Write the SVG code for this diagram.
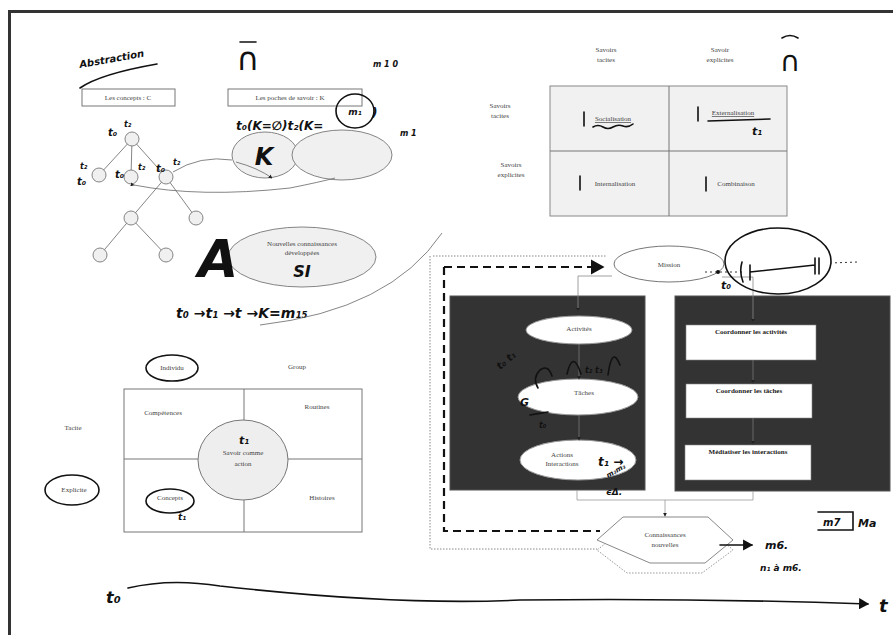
<svg xmlns="http://www.w3.org/2000/svg" width="893" height="635" viewBox="0 0 893 635">
<defs>
<marker id="ah" viewBox="0 0 6 6" refX="5" refY="3" markerWidth="5" markerHeight="5" orient="auto"><path d="M0,0 L6,3 L0,6 z" fill="#222"/></marker>
<marker id="hah" viewBox="0 0 10 10" refX="8" refY="5" markerWidth="7" markerHeight="7" orient="auto"><path d="M0,0 L9,5 L0,10 z" fill="#111"/></marker>
<style>
.doc{font-family:"Liberation Serif",serif;font-size:7px;fill:#444;text-anchor:middle}
.docb{font-family:"Liberation Serif",serif;font-size:7px;fill:#222;font-weight:bold;text-anchor:middle}
.hw{font-family:"DejaVu Sans",sans-serif;font-style:italic;font-weight:bold;fill:#111}
.hl{fill:none;stroke:#111;stroke-width:1.6;stroke-linecap:round}
.thin{fill:none;stroke:#666;stroke-width:0.8}
.node{fill:#f0f0f0;stroke:#777;stroke-width:0.9}
.dark{fill:#333;stroke:#555}
.wbox{fill:#fff;stroke:#888;stroke-width:0.6}
</style>
</defs>
<rect width="893" height="635" fill="#fff"/>
<rect x="8" y="10" width="885" height="3" fill="#333"/>
<rect x="8" y="10" width="3" height="625" fill="#333"/>

<g id="abstraction">
<text class="hw" x="80" y="68" font-size="10" transform="rotate(-10 80 68)">Abstraction</text>
<path class="hl" d="M80,88 Q100,74 157,64" stroke-width="1"/>
</g>
<g id="pi-bar">
<text x="248" y="70" font-size="32" text-anchor="middle" font-family="DejaVu Sans, sans-serif" fill="#111">∩</text>
<path class="hl" d="M240,42 L256,42"/>
<text class="hw" x="373" y="67" font-size="8">m 1 0</text>
</g>
<g id="box-concepts"><rect x="82" y="89" width="93" height="17" fill="#fff" stroke="#777"/><text class="doc" x="128" y="100">Les concepts : C</text></g>
<g id="box-poches"><rect x="228" y="89" width="134" height="17" fill="#fff" stroke="#777"/><text class="doc" x="290" y="100">Les poches de savoir : K</text></g>
<g id="hw-k-label">
<text class="hw" x="236" y="130" font-size="12">t₀(K=∅)t₂(K=</text>
<ellipse class="hl" cx="355" cy="111" rx="19" ry="17"/>
<text class="hw" x="355" y="115" font-size="9" text-anchor="middle">m₁</text>
<text class="hw" x="372" y="117" font-size="12">)</text>
<text class="hw" x="400" y="136" font-size="8">m 1</text>
</g>
<g id="ellipse-k"><ellipse class="node" cx="265" cy="155" rx="33" ry="23"/><text class="hw" x="264" y="165" font-size="24" text-anchor="middle" font-style="normal" font-weight="normal">K</text></g>
<g id="ellipse-k2"><ellipse class="node" cx="342" cy="155" rx="50" ry="25"/></g>

<g id="tree">
<g stroke="#777" stroke-width="0.9">
<line x1="132" y1="139" x2="99" y2="175"/><line x1="132" y1="139" x2="131" y2="177"/><line x1="132" y1="139" x2="166" y2="177"/>
<line x1="166" y1="177" x2="131" y2="218"/><line x1="166" y1="177" x2="196" y2="218"/>
<line x1="131" y1="218" x2="100" y2="255"/><line x1="131" y1="218" x2="166" y2="255"/>
</g>
<circle class="node" cx="132" cy="139" r="7"/><circle class="node" cx="99" cy="175" r="7"/><circle class="node" cx="131" cy="177" r="7"/><circle class="node" cx="166" cy="177" r="7"/>
<circle class="node" cx="131" cy="218" r="7"/><circle class="node" cx="196" cy="218" r="7"/><circle class="node" cx="100" cy="255" r="7"/><circle class="node" cx="166" cy="255" r="7"/>
<g class="hw" font-size="10">
<text x="108" y="136">t₀</text><text x="124" y="127" font-size="8">t₂</text>
<text x="80" y="169" font-size="8">t₂</text><text x="77" y="185">t₀</text>
<text x="115" y="178">t₀</text><text x="138" y="170" font-size="8">t₂</text>
<text x="156" y="172">t₀</text><text x="173" y="165" font-size="8">t₂</text>
</g>
</g>

<g id="ellipse-si"><ellipse class="node" cx="302" cy="257" rx="74" ry="30"/><text class="doc" x="302" y="246">Nouvelles connaissances</text><text class="doc" x="302" y="255">développées</text><text class="hw" x="302" y="277" font-size="16" text-anchor="middle" font-style="normal">SI</text></g>
<g id="hw-A"><text class="hw" x="218" y="277" font-size="52" text-anchor="middle" font-style="normal" font-weight="normal">A</text></g>
<g id="hw-sequence"><text class="hw" x="176" y="318" font-size="14">t₀ →t₁ →t →K=m₁₅</text></g>

<g id="seci">
<text class="doc" x="606" y="52">Savoirs</text><text class="doc" x="606" y="62">tacites</text>
<text class="doc" x="720" y="52">Savoir</text><text class="doc" x="720" y="62">explicites</text>
<text x="790" y="71" font-size="28" text-anchor="middle" font-family="DejaVu Sans, sans-serif" fill="#111">∩</text>
<path class="hl" d="M782,38 Q790,33 798,38"/>
<text class="doc" x="500" y="108" text-anchor="start">Savoirs</text><text class="doc" x="500" y="118" text-anchor="start">tacites</text>
<text class="doc" x="511" y="167" text-anchor="start">Savoirs</text><text class="doc" x="511" y="177" text-anchor="start">explicites</text>
<rect x="550" y="86" width="237" height="130" fill="#f1f1f1" stroke="#888"/>
<line x1="669" y1="86" x2="669" y2="216" stroke="#777"/><line x1="550" y1="151" x2="787" y2="151" stroke="#777"/>
<text class="doc" x="613" y="121" text-decoration="underline">Socialisation</text>
<path class="hl" d="M593,127 q5,-3 10,0 t10,0 t10,-1 t10,-2" stroke-width="1.3"/>
<text class="doc" x="733" y="115" text-decoration="underline">Externalisation</text>
<path class="hl" d="M708,121 L770,119" stroke-width="1.2"/>
<text class="hw" x="752" y="135" font-size="11">t₁</text>
<text class="doc" x="615" y="186">Internalisation</text>
<text class="doc" x="736" y="186">Combinaison</text>
<path class="hl" d="M584,112 L584,126 M698,107 L698,121 M580,176 L580,190 M706,177 L706,191" stroke-width="2.4"/>
</g>

<path class="thin" d="M442,233 Q390,310 260,325" stroke="#444"/>

<g id="frames">
<path d="M433,256 L607,256 M430,256 L430,549 L597,549" fill="none" stroke="#888" stroke-dasharray="1.5 1.5"/>
</g>
<g id="box-left"><rect class="dark" x="450" y="296" width="195" height="194"/></g>
<g id="box-right"><rect class="dark" x="675" y="296" width="215" height="195"/></g>
<g id="mission"><ellipse fill="#fff" stroke="#777" cx="669" cy="264" rx="55" ry="18"/><text class="doc" x="669" y="267">Mission</text></g>
<g id="activites"><ellipse fill="#fff" stroke="#999" cx="579" cy="330" rx="53" ry="14"/><text class="doc" x="579" y="331" fill="#555">Activités</text></g>
<g id="taches"><ellipse fill="#fff" stroke="#999" cx="578" cy="397" rx="60" ry="18"/><text class="doc" x="584" y="395" fill="#555">Tâches</text></g>
<g id="actions"><ellipse fill="#fff" stroke="#999" cx="578" cy="460" rx="58" ry="20"/><text class="doc" x="562" y="457" fill="#555">Actions</text><text class="doc" x="562" y="466" fill="#555">Interactions</text></g>
<g id="coord-activites"><rect class="wbox" x="686" y="325" width="130" height="35"/><text class="docb" x="751" y="334">Coordonner les activités</text></g>
<g id="coord-taches"><rect class="wbox" x="686" y="384" width="126" height="34"/><text class="docb" x="749" y="393">Coordonner les tâches</text></g>
<g id="mediatiser"><rect class="wbox" x="685" y="445" width="126" height="35"/><text class="docb" x="748" y="454">Médiatiser les interactions</text></g>
<g id="hexagon">
<path d="M627,527 L708,527 L733,550 L702,573 L627,573 L597,550 z" fill="#fff" stroke="#999" stroke-dasharray="1.5 1.5"/>
<path d="M623,517 L708,517 L733,540 L705,563 L650,563 L597,540 z" fill="#fff" stroke="#888"/>
<text class="doc" x="665" y="537">Connaissances</text><text class="doc" x="665" y="547">nouvelles</text>
</g>

<g id="connectors">
<path d="M444,267 L603,267" fill="none" stroke="#111" stroke-width="2.2" stroke-dasharray="8 5" marker-end="url(#hah)"/>
<path d="M444,267 L444,531 L600,531" fill="none" stroke="#111" stroke-width="2.2" stroke-dasharray="8 5"/>
<path d="M612,276 L578,276 L578,311" fill="none" stroke="#888" stroke-width="0.8" marker-end="url(#ah)"/>
<path d="M722,277 L753,277 L753,322" fill="none" stroke="#888" stroke-width="0.8" marker-end="url(#ah)"/>
<path d="M579,344 L579,379" stroke="#777" stroke-width="0.8" marker-end="url(#ah)"/>
<path d="M579,415 L579,440" stroke="#777" stroke-width="0.8" marker-end="url(#ah)"/>
<path d="M753,360 L753,383" stroke="#777" stroke-width="0.8" marker-end="url(#ah)"/>
<path d="M753,418 L753,444" stroke="#777" stroke-width="0.8" marker-end="url(#ah)"/>
<path d="M577,490 L577,500 L753,500 L753,491 M665,500 L665,516" fill="none" stroke="#999" stroke-width="0.8" marker-end="url(#ah)"/>
<path d="M236,162 Q258,168 272,178" class="thin" marker-end="url(#ah)"/>
<path d="M173,172 Q200,155 232,160" class="thin"/>
<path d="M134,185 Q200,198 290,188 Q320,182 335,178" class="thin" marker-start="url(#ah)"/>
<path d="M202,440 L189,430 M283,440 L295,432 M205,483 L193,492 M285,483 L300,493" class="thin" marker-end="url(#ah)"/>
</g>

<g id="hw-mission">
<ellipse class="hl" cx="778" cy="261" rx="53" ry="33" stroke-width="1.2"/>
<path d="M705,272 L745,272 M830,263 L858,262" stroke="#333" stroke-dasharray="2 3" fill="none"/>
<path class="hl" d="M742,262 Q739,272 743,282 M750,265 L750,280 M750,272 L815,265 M815,258 L815,274 M819,258 L819,274"/>
<circle cx="718" cy="272" r="2" fill="#111"/>
<text class="hw" x="721" y="289" font-size="11">t₀</text>
</g>
<g id="hw-taches">
<path class="hl" d="M538,388 q-6,-10 2,-18 q8,-6 12,6 M567,374 q6,-25 14,0 M608,375 q4,-30 12,-10" stroke-width="1.1"/>
<text class="hw" x="500" y="370" font-size="10" transform="rotate(-40 500 370)">t₀ t₁</text>
<text class="hw" x="585" y="373" font-size="8">t₂ t₃</text>
<text class="hw" x="520" y="406" font-size="11">G</text>
<text class="hw" x="539" y="428" font-size="8">t₀</text>
<path class="hl" d="M530,415 L548,412" />
<text class="hw" x="598" y="466" font-size="12">t₁ →</text>
<text class="hw" x="608" y="478" font-size="7" transform="rotate(-30 608 478)">m₂m₃</text>
<text class="hw" x="606" y="495" font-size="9">ϵΔ.</text>
</g>
<g id="hw-lower-right">
<path class="hl" d="M720,545 L752,545" marker-end="url(#hah)"/>
<text class="hw" x="765" y="549" font-size="11">m6.</text>
<path class="hl" d="M818,512 L853,512 L853,530 L818,530" stroke-width="1.2"/>
<text class="hw" x="823" y="526" font-size="10">m7</text>
<text class="hw" x="858" y="527" font-size="11">Ma</text>
<text class="hw" x="760" y="571" font-size="9">n₁ à m6.</text>
</g>

<g id="quadrant">
<ellipse class="hl" cx="172" cy="368" rx="26" ry="13" stroke-width="1"/>
<text class="doc" x="172" y="370">Individu</text>
<text class="doc" x="297" y="369">Group</text>
<text class="doc" x="73" y="430">Tacite</text>
<ellipse class="hl" cx="72" cy="490" rx="27" ry="15" stroke-width="1"/>
<text class="doc" x="74" y="492">Explicite</text>
<rect x="124" y="389" width="238" height="143" fill="#fff" stroke="#777"/>
<line x1="244" y1="389" x2="244" y2="532" stroke="#777"/>
<line x1="124" y1="459" x2="362" y2="459" stroke="#777"/>
<text class="doc" x="163" y="415">Compétences</text>
<text class="doc" x="317" y="409">Routines</text>
<text class="doc" x="322" y="500">Histoires</text>
<text class="doc" x="170" y="500">Concepts</text>
<ellipse class="hl" cx="170" cy="501" rx="24" ry="12" stroke-width="1"/>
<text class="hw" x="178" y="520" font-size="9">t₁</text>
</g>
<g id="savoir-action"><ellipse cx="243" cy="460" rx="45" ry="40" fill="#eee" stroke="#777"/><text class="doc" x="243" y="455" font-size="8.5">Savoir comme</text><text class="doc" x="243" y="466" font-size="8.5">action</text><text class="hw" x="239" y="444" font-size="11">t₁</text></g>

<g id="timeline">
<path class="hl" d="M128,588 Q170,578 220,586 Q400,606 520,600 Q700,598 868,604" stroke-width="1.4" marker-end="url(#hah)"/>
<text class="hw" x="106" y="603" font-size="16" font-style="normal">t₀</text>
<text class="hw" x="879" y="612" font-size="18" font-style="normal">t</text>
</g>
</svg>
